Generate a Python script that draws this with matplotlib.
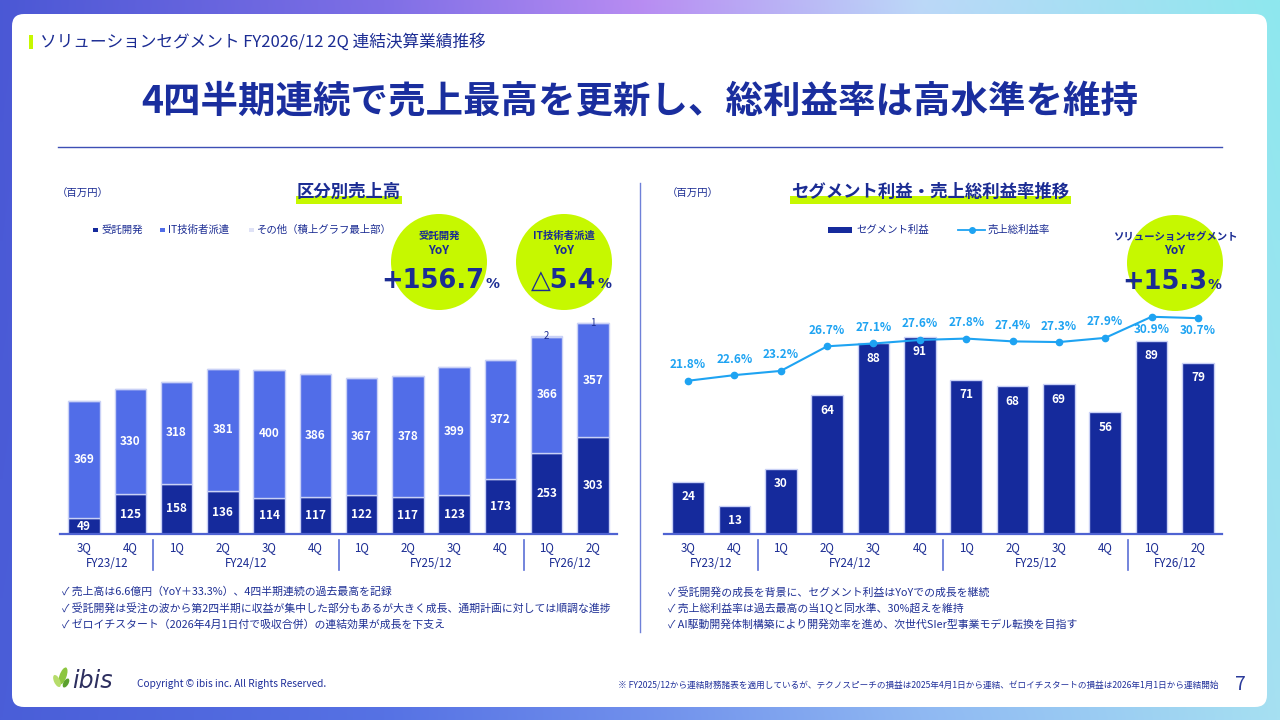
import numpy as np
import matplotlib
matplotlib.use("Agg")
import matplotlib.pyplot as plt
from matplotlib.patches import Rectangle, Circle, FancyBboxPatch, Ellipse
from matplotlib.transforms import blended_transform_factory
from matplotlib.colors import to_rgb

plt.rcParams['font.family'] = ['Noto Sans CJK JP', 'DejaVu Sans']

# ---------------- data ----------------
quarters = ['3Q', '4Q', '1Q', '2Q', '3Q', '4Q', '1Q', '2Q', '3Q', '4Q', '1Q', '2Q']
fiscal_years = ['FY23/12', 'FY24/12', 'FY25/12', 'FY26/12']
fy_sizes = [2, 4, 4, 2]
contract_dev = [49, 125, 158, 136, 114, 117, 122, 117, 123, 173, 253, 303]
it_dispatch = [369, 330, 318, 381, 400, 386, 367, 378, 399, 372, 366, 357]
other = [0, 0, 0, 0, 0, 0, 0, 0, 0, 0, 2, 1]
segment_profit = [24, 13, 30, 64, 88, 91, 71, 68, 69, 56, 89, 79]
gross_margin = [21.8, 22.6, 23.2, 26.7, 27.1, 27.6, 27.8, 27.4, 27.3, 27.9, 30.9, 30.7]

legend_left = ['受託開発', 'IT技術者派遣', 'その他（積上グラフ最上部）']
legend_right = ['セグメント利益', '売上総利益率']
yoy_boxes = [('受託開発', '+156.7'), ('IT技術者派遣', '△5.4'), ('ソリューションセグメント', '+15.3')]

header = 'ソリューションセグメント FY2026/12 2Q 連結決算業績推移'
title = '4四半期連続で売上最高を更新し、総利益率は高水準を維持'
left_title = '区分別売上高'
right_title = 'セグメント利益・売上総利益率推移'
unit = '（百万円）'
left_bullets = ['✓ 売上高は6.6億円（YoY＋33.3%）、4四半期連続の過去最高を記録',
                '✓ 受託開発は受注の波から第2四半期に収益が集中した部分もあるが大きく成長、通期計画に対しては順調な進捗',
                '✓ ゼロイチスタート（2026年4月1日付で吸収合併）の連結効果が成長を下支え']
right_bullets = ['✓ 受託開発の成長を背景に、セグメント利益はYoYでの成長を継続',
                 '✓ 売上総利益率は過去最高の当1Qと同水準、30%超えを維持',
                 '✓ AI駆動開発体制構築により開発効率を進め、次世代SIer型事業モデル転換を目指す']
footnote = '※ FY2025/12から連結財務諸表を適用しているが、テクノスピーチの損益は2025年4月1日から連結、ゼロイチスタートの損益は2026年1月1日から連結開始'
copyright_txt = 'Copyright © ibis inc. All Rights Reserved.'

# ---------------- styles ----------------
NAVY = '#1b2c93'
DARK = '#152a9c'
BLUE = '#516de8'
OTHER = '#dfe2f6'
EDGE = '#c9d1f6'
LINE = '#1ea3f2'
LIME = '#c6f800'
AXIS = '#4f63d2'
NUMFONT = ['DejaVu Sans', 'Noto Sans CJK JP']

fig = plt.figure(figsize=(12.8, 7.2), dpi=100)
bg = fig.add_axes([0, 0, 1, 1], zorder=0)
bg.set_xlim(0, 1280)
bg.set_ylim(720, 0)
bg.axis('off')

# gradient frame
W, H = 256, 144
xs = np.linspace(0, 1, W)
stops = [0, 0.3, 0.5, 0.72, 1.0]
top_cols = ['#4b58d5', '#7f6fe6', '#b88cf2', '#bcd8f8', '#8ee8ee']
bot_cols = ['#4a5ed8', '#5672e4', '#6f8fec', '#8fb8f2', '#a6e0f2']
def row(cols):
    arr = np.array([to_rgb(c) for c in cols])
    return np.stack([np.interp(xs, stops, arr[:, k]) for k in range(3)], axis=1)
top_row, bot_row = row(top_cols), row(bot_cols)
t = np.linspace(0, 1, H)[:, None, None]
img = (1 - t) * top_row[None] + t * bot_row[None]
bg.imshow(img, extent=[0, 1280, 720, 0], aspect='auto', interpolation='bilinear', zorder=0)
bg.add_patch(FancyBboxPatch((12, 14), 1255, 693, boxstyle='round,pad=0,rounding_size=12',
                            fc='white', ec='none', zorder=1))

# header + title
bg.add_patch(Rectangle((29, 35), 4, 14, fc=LIME, ec='none', zorder=2))
bg.text(40, 42, header, ha='left', va='center', fontsize=12, color=NAVY, zorder=3)
bg.text(640, 101, title, ha='center', va='center', fontsize=27, fontweight='bold', color='#1a2e9e', zorder=3)
bg.plot([58, 1222], [147, 147], color='#3d4fb5', lw=1, zorder=3)
bg.plot([640, 640], [183, 632], color='#6f80d8', lw=1, zorder=3)

# chart titles
bg.add_patch(Rectangle((296, 196), 106, 8, fc=LIME, ec='none', zorder=2))
bg.text(349, 192, left_title, ha='center', va='center', fontsize=12.5, fontweight='bold', color=NAVY, zorder=3)
bg.add_patch(Rectangle((790, 196), 281, 8, fc=LIME, ec='none', zorder=2))
bg.text(930, 192, right_title, ha='center', va='center', fontsize=12.5, fontweight='bold', color=NAVY, zorder=3)
bg.text(57, 194, unit, ha='left', va='center', fontsize=7.5, color=NAVY, zorder=3)
bg.text(667, 194, unit, ha='left', va='center', fontsize=7.5, color=NAVY, zorder=3)

# left legend
for lx, col, lab in zip([93, 160, 249], [DARK, BLUE, OTHER], legend_left):
    bg.add_patch(Rectangle((lx, 227.5), 4.5, 4.5, fc=col, ec='none', zorder=3))
    bg.text(lx + 8, 230, lab, ha='left', va='center', fontsize=7.5, color=NAVY, zorder=3)
# right legend
bg.add_patch(Rectangle((828, 227), 24, 6, fc=DARK, ec='none', zorder=3))
bg.text(856, 230, legend_right[0], ha='left', va='center', fontsize=7.5, color=NAVY, zorder=3)
bg.plot([958, 985], [230, 230], color=LINE, lw=1.3, zorder=3)
bg.plot([971.5], [230], marker='o', ms=4, color=LINE, zorder=4)
bg.text(988, 230, legend_right[1], ha='left', va='center', fontsize=7.5, color=NAVY, zorder=3)

# YoY circles
circles = [(439, 262, 48, 484), (564, 262, 48, 596), (1175, 263, 48, 1207)]
for (cx, cy, r, split), (lab, val) in zip(circles, yoy_boxes):
    bg.add_patch(Circle((cx, cy), r, fc=LIME, ec='none', zorder=2))
    bg.text(cx, cy - 26, lab, ha='center', va='center', fontsize=7.5, fontweight='bold', color=NAVY, zorder=3)
    bg.text(cx, cy - 12, 'YoY', ha='center', va='center', fontsize=8.5, fontweight='bold', color=NAVY, zorder=3)
    bg.text(split, cy + 26, val, ha='right', va='baseline', fontsize=18.5, fontweight='bold',
            family=NUMFONT, color=NAVY, zorder=3)
    bg.text(split + 1, cy + 26, '%', ha='left', va='baseline', fontsize=10, fontweight='bold',
            family=NUMFONT, color=NAVY, zorder=3)

# bullets
for i, (lb, rb) in enumerate(zip(left_bullets, right_bullets)):
    y = 592 + 16.5 * i
    bg.text(62, y, lb, ha='left', va='center', fontsize=7.8, color='#1f3095', zorder=3)
    bg.text(668, y, rb, ha='left', va='center', fontsize=7.8, color='#1f3095', zorder=3)

# footer
bg.add_patch(Ellipse((63, 676), 7, 18, angle=20, fc='#8cc63f', ec='none', zorder=3))
bg.add_patch(Ellipse((57, 681), 6, 13, angle=-25, fc='#b6dc6a', ec='none', zorder=3))
bg.add_patch(Ellipse((66, 683), 5, 10, angle=30, fc='#5aa02c', ec='none', zorder=3))
bg.text(72, 681, 'ibis', ha='left', va='center', fontsize=17, fontstyle='italic',
        family='DejaVu Sans', color='#2d2f5f', zorder=3)
bg.text(137, 684, copyright_txt, ha='left', va='center', fontsize=7.3, color='#1f2f9a', zorder=3)
bg.text(1219, 686, footnote, ha='right', va='center', fontsize=6.2, color='#1f2f9a', zorder=3)
bg.text(1240, 684, '7', ha='center', va='center', fontsize=14, color='#2a3a9a', zorder=3)


def px_axes(left, top, right, bottom):
    a = fig.add_axes([left / 1280, 1 - bottom / 720, (right - left) / 1280, (bottom - top) / 720], zorder=1)
    a.set_facecolor('none')
    for s in ['top', 'left', 'right']:
        a.spines[s].set_visible(False)
    a.spines['bottom'].set_color(AXIS)
    a.spines['bottom'].set_linewidth(1.6)
    a.set_yticks([])
    return a


def style_x(a):
    x = np.arange(len(quarters))
    a.set_xlim(-0.52, 11.52)
    a.set_xticks(x, quarters)
    a.tick_params(axis='x', length=0, pad=5, labelsize=8.3, labelcolor=NAVY)
    tr = blended_transform_factory(a.transData, a.transAxes)
    start = 0
    for fy, n in zip(fiscal_years, fy_sizes):
        center = start + (n - 1) / 2
        a.annotate(fy, xy=(center, 0), xycoords=('data', 'axes fraction'), xytext=(0, -21),
                   textcoords='offset points', ha='center', va='center', fontsize=8.3, color=NAVY)
        if start > 0:
            a.plot([start - 0.5, start - 0.5], [-6 / 234, -36 / 234], transform=tr,
                   color='#5b6fd6', lw=1.2, clip_on=False)
        start += n


x = np.arange(len(quarters))
BW = 0.68

# left chart
axL = px_axes(60, 300, 617, 534)
axL.set_ylim(0, 234 / 0.319)
dev = np.array(contract_dev)
it = np.array(it_dispatch)
oth = np.array(other)
axL.bar(x, dev, width=BW, color=DARK, edgecolor=EDGE, linewidth=1.0, zorder=2)
axL.bar(x, it, bottom=dev, width=BW, color=BLUE, edgecolor=EDGE, linewidth=1.0, zorder=2)
axL.bar(x, oth, bottom=dev + it, width=BW, color=OTHER, edgecolor=EDGE, linewidth=1.0, zorder=2)
for xi, d, v, o in zip(x, dev, it, oth):
    axL.text(xi, d / 2, str(d), ha='center', va='center', fontsize=8.5, fontweight='bold', color='white', zorder=3)
    axL.text(xi, d + v / 2, str(v), ha='center', va='center', fontsize=8.5, fontweight='bold', color='white', zorder=3)
    if o > 0:
        axL.text(xi, d + v + o, str(o), ha='center', va='center', fontsize=7, color=NAVY, zorder=3)
style_x(axL)

# right chart
axR = px_axes(664, 300, 1222, 534)
axR.set_ylim(0, 234 / 2.17)
axR.bar(x, segment_profit, width=BW, color=DARK, edgecolor=EDGE, linewidth=1.0, zorder=2)
for xi, v in zip(x, segment_profit):
    axR.annotate(str(v), xy=(xi, v), xytext=(0, -10.8), textcoords='offset points', ha='center', va='center',
                 fontsize=8.5, fontweight='bold', color='white', zorder=3)
style_x(axR)
axT = axR.twinx()
axT.set_ylim(0, 234 / 7.03)
axT.set_yticks([])
for s in ['top', 'left', 'right', 'bottom']:
    axT.spines[s].set_visible(False)
axT.plot(x, gross_margin, color=LINE, lw=1.5, marker='o', ms=4.5, zorder=4)
for i, (xi, v) in enumerate(zip(x, gross_margin)):
    off = -9.0 if i >= len(x) - 2 else 11.5
    axT.annotate(f'{v:.1f}%', xy=(xi, v), xytext=(0, off), textcoords='offset points', ha='center',
                 va='center', fontsize=8.5, fontweight='bold', color=LINE)

fig.savefig('out.png', dpi=100)
